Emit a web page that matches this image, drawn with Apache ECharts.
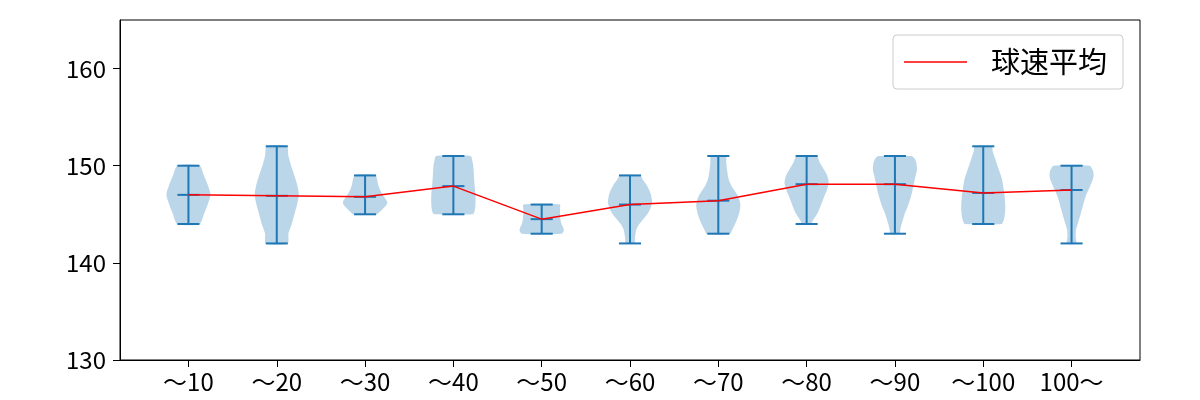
<!DOCTYPE html>
<html>
<head>
<meta charset="utf-8">
<script src="https://cdn.jsdelivr.net/npm/echarts@6/dist/echarts.min.js"></script>
<style>
  html, body { margin: 0; padding: 0; background: #fff; }
  #chart { width: 1200px; height: 400px; }
</style>
</head>
<body>
<div id="chart"></div>
<script>
// ---- data ----
const categories = ['〜10', '〜20', '〜30', '〜40', '〜50', '〜60', '〜70', '〜80', '〜90', '〜100', '100〜'];
const meanSpeed = [147.0, 146.9, 146.8, 147.9, 144.5, 146.0, 146.4, 148.1, 148.1, 147.2, 147.5];
const minSpeed  = [144, 142, 145, 145, 143, 142, 143, 144, 143, 144, 142];
const maxSpeed  = [150, 152, 149, 151, 146, 149, 151, 151, 151, 152, 150];
// violin density profiles: [speed, relative width]
const shape10  = [[144,0.5],[145,0.7],[146,0.87],[147,1.0],[148,0.88],[149,0.7],[150,0.5]];
const shape20  = [[142,0.49],[143,0.53],[143.5,0.6],[144,0.68],[145,0.8],[146,0.92],[147,1.0],[148,0.93],[149,0.8],[150,0.65],[151,0.53],[152,0.45]];
const shape30  = [[145,0.5],[145.5,0.78],[146,0.98],[146.3,1.0],[146.8,0.86],[147.5,0.68],[148,0.6],[149,0.46]];
const shape40  = [[145,0.88],[145.3,0.96],[146,1.0],[147,1.0],[148,0.96],[149,0.93],[150,0.9],[150.6,0.85],[151,0.78]];
const shape50  = [[143,0.9],[143.3,1.0],[143.6,0.98],[144,0.9],[144.5,0.85],[145,0.83],[145.5,0.83],[146,0.82]];
const shape60  = [[142,0.2],[142.5,0.22],[143,0.25],[143.5,0.3],[144,0.42],[144.5,0.6],[145,0.78],[145.5,0.9],[146.2,1.0],[147,0.95],[147.5,0.87],[148,0.76],[148.5,0.6],[149,0.45]];
const shape70  = [[143,0.53],[143.5,0.65],[144,0.76],[144.8,0.9],[145.5,0.98],[146,1.0],[146.5,0.95],[147,0.86],[147.5,0.72],[148,0.58],[148.6,0.47],[149.5,0.4],[150.3,0.36],[151,0.33]];
const shape80  = [[144,0.2],[144.4,0.29],[145,0.47],[145.5,0.57],[146,0.66],[146.5,0.74],[147,0.83],[147.5,0.92],[148.2,1.0],[148.7,0.97],[149.2,0.89],[149.7,0.76],[150.3,0.6],[151,0.45]];
const shape90  = [[143,0.21],[143.4,0.24],[144,0.3],[144.5,0.37],[145.1,0.45],[145.8,0.58],[146.8,0.72],[147.5,0.8],[148.6,0.9],[149.6,1.0],[150.4,0.96],[150.8,0.87],[151,0.75]];
const shape100 = [[144,0.83],[144.4,0.93],[145,0.98],[145.8,1.0],[146.8,0.97],[147.5,0.93],[148.6,0.85],[149.5,0.72],[150.3,0.6],[151,0.5],[151.5,0.43],[152,0.38]];
const shape100p = [[142,0.2],[142.7,0.19],[143.4,0.2],[144,0.28],[145.1,0.42],[146,0.53],[146.85,0.64],[148,0.86],[148.5,0.95],[149,1.0],[149.5,0.97],[149.8,0.9],[150,0.83]];
const violinShapes = [shape10, shape20, shape30, shape40, shape50, shape60, shape70, shape80, shape90, shape100, shape100p];
const yTicks = [130, 140, 150, 160];
const legendName = '球速平均';

// ---- chart ----
const BLUE = '#1f77b4';
const HALF = 0.25;   // max half width of violin (x units)
const CAP = 0.125;   // half length of cap lines

const chart = echarts.init(document.getElementById('chart'), null, { renderer: 'canvas' });
const positions = categories.map((c, i) => i + 1);

function renderViolin(params, api) {
  const i = params.dataIndex;
  const x = api.value(0);
  const lo = api.value(1), hi = api.value(2), mean = api.value(3);
  const prof = violinShapes[i];
  const right = prof.map(p => api.coord([x + p[1] * HALF, p[0]]));
  const left = prof.slice().reverse().map(p => api.coord([x - p[1] * HALF, p[0]]));
  const pts = right.concat(left);
  const lineStyle = { stroke: BLUE, lineWidth: 2 };
  const hline = (v) => {
    const a = api.coord([x - CAP, v]), b = api.coord([x + CAP, v]);
    return { type: 'line', shape: { x1: a[0], y1: a[1], x2: b[0], y2: b[1] }, style: lineStyle };
  };
  const top = api.coord([x, hi]), bot = api.coord([x, lo]);
  return {
    type: 'group',
    children: [
      { type: 'polygon', shape: { points: pts, smooth: 0.25 }, style: { fill: 'rgba(31,119,180,0.3)', stroke: 'none' } },
      { type: 'line', shape: { x1: top[0], y1: top[1], x2: bot[0], y2: bot[1] }, style: lineStyle },
      hline(hi), hline(lo), hline(mean)
    ]
  };
}

const FONT = '"Noto Sans CJK JP", "Noto Sans", sans-serif';

const option = {
  animation: false,
  backgroundColor: '#ffffff',
  textStyle: { fontFamily: FONT },
  grid: {
    left: 120, right: 60, top: 20, bottom: 40,
    show: true, borderColor: '#000', borderWidth: 1, backgroundColor: 'transparent'
  },
  legend: {
    data: [{ name: legendName, icon: 'rect' }],
    left: 893, top: 35,
    padding: [11, 16, 11, 11],
    itemWidth: 63, itemHeight: 1.5,
    backgroundColor: 'rgba(255,255,255,0.8)',
    borderColor: '#cccccc', borderWidth: 1, borderRadius: 4,
    textStyle: { fontSize: 29, color: '#000', padding: [0, 0, 0, 19], lineHeight: 32, fontFamily: FONT }
  },
  xAxis: {
    type: 'value', min: 0.225, max: 11.775,
    splitLine: { show: false },
    axisLine: { onZero: false, lineStyle: { color: '#000', width: 1 } },
    axisTick: { show: true, inside: false, length: 7, customValues: positions, lineStyle: { color: '#000', width: 1 } },
    axisLabel: {
      customValues: positions, margin: 10, fontSize: 24, color: '#000', fontFamily: FONT,
      formatter: (v) => categories[Math.round(v) - 1] || ''
    }
  },
  yAxis: {
    type: 'value', min: 130, max: 165,
    splitLine: { show: false },
    axisLine: { show: true, onZero: false, lineStyle: { color: '#000', width: 1 } },
    axisTick: { show: true, inside: false, length: 7, customValues: yTicks, lineStyle: { color: '#000', width: 1 } },
    axisLabel: { customValues: yTicks, margin: 14, fontSize: 24, color: '#000', fontFamily: FONT }
  },
  series: [
    {
      type: 'custom',
      name: 'violin',
      renderItem: renderViolin,
      data: positions.map((p, i) => [p, minSpeed[i], maxSpeed[i], meanSpeed[i]]),
      encode: { x: 0, y: [1, 2] },
      z: 2
    },
    {
      type: 'line',
      name: legendName,
      data: positions.map((p, i) => [p, meanSpeed[i]]),
      symbol: 'none',
      lineStyle: { color: '#ff0000', width: 1.5 },
      itemStyle: { color: '#ff0000' },
      z: 3
    }
  ]
};
chart.setOption(option);
</script>
</body>
</html>
